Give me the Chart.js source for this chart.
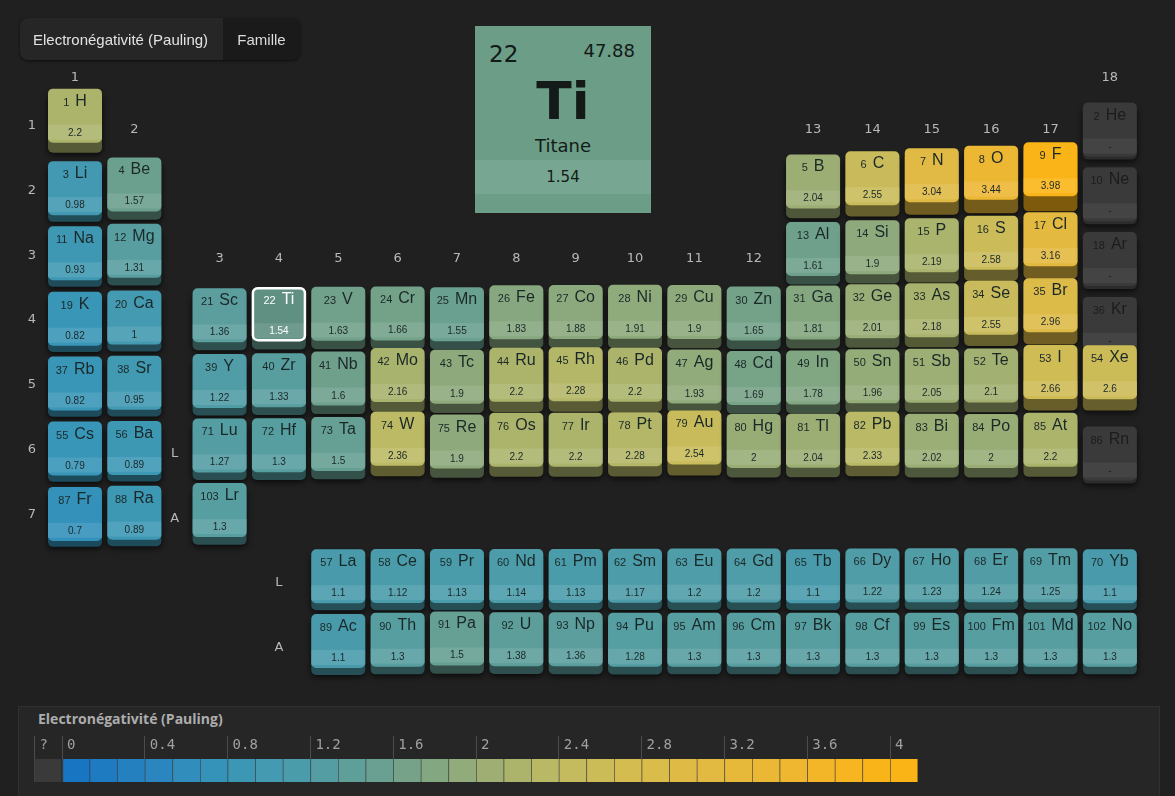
<!DOCTYPE html>
<html><head><meta charset="utf-8">
<script src="https://cdn.jsdelivr.net/npm/chart.js@4.4.1/dist/chart.umd.min.js"></script>
<style>
html,body{margin:0;padding:0;background:#202020;width:1175px;height:796px;overflow:hidden;font-family:'Liberation Sans',Arial,sans-serif}
#main{position:absolute;left:0;top:0}
#tabs{position:absolute;left:20px;top:18px;width:280px;height:42px;border-radius:8px;background:#1a1a1a;box-shadow:0 1px 3px rgba(0,0,0,.6)}
#tab1{position:absolute;left:0;top:0;width:190px;padding-left:13px;height:42px;border-radius:8px 0 0 8px;background:#262626;color:#e2e2e2;font-size:15px;line-height:44px;text-align:left;white-space:nowrap}
#tab2{position:absolute;left:203px;top:0;width:77px;height:42px;color:#dcdcdc;font-size:15px;line-height:44px;text-align:center}
#info{position:absolute;left:475px;top:26px;width:176px;height:187px;background:#6b9d87;font-family:'DejaVu Sans',sans-serif;color:#141a17}
#info .num{position:absolute;left:14px;top:14px;font-size:23px;line-height:28px}
#info .mass{position:absolute;right:16px;top:12px;font-size:18px;line-height:26px}
#info .sym{position:absolute;left:0;width:100%;top:44px;text-align:center;font-size:52px;font-weight:bold;line-height:62px}
#info .name{position:absolute;left:0;width:100%;top:108px;text-align:center;font-size:18px;line-height:24px}
#info .band{position:absolute;left:0;width:100%;top:134px;height:34px;background:#77a792;text-align:center;font-size:15px;line-height:34px}
#panel{position:absolute;left:18px;top:706px;width:1140px;height:92px;background:#262626;border:1px solid #303030}
#ptitle{position:absolute;left:38px;top:709px;font-family:'Open Sans',sans-serif;font-weight:700;font-size:14px;color:#adadad}
#legend{position:absolute;left:0;top:700px}
</style></head><body>
<canvas id="main" width="1175" height="700"></canvas>
<div id="tabs"><div id="tab1">Electronégativité (Pauling)</div><div id="tab2">Famille</div></div>
<div id="info"><div class="num">22</div><div class="mass">47.88</div><div class="sym">Ti</div><div class="name">Titane</div><div class="band">1.54</div></div>
<div id="panel"></div>
<div id="ptitle">Electronégativité (Pauling)</div>
<canvas id="legend" width="1175" height="96"></canvas>
<script>
// ---------- DATA ----------
const symbols = ['H','He','Li','Be','B','C','N','O','F','Ne','Na','Mg','Al','Si','P','S','Cl','Ar',
'K','Ca','Sc','Ti','V','Cr','Mn','Fe','Co','Ni','Cu','Zn','Ga','Ge','As','Se','Br','Kr',
'Rb','Sr','Y','Zr','Nb','Mo','Tc','Ru','Rh','Pd','Ag','Cd','In','Sn','Sb','Te','I','Xe',
'Cs','Ba','La','Ce','Pr','Nd','Pm','Sm','Eu','Gd','Tb','Dy','Ho','Er','Tm','Yb','Lu','Hf','Ta','W','Re','Os','Ir','Pt','Au','Hg','Tl','Pb','Bi','Po','At','Rn',
'Fr','Ra','Ac','Th','Pa','U','Np','Pu','Am','Cm','Bk','Cf','Es','Fm','Md','No','Lr'];
const electronegativity = [2.2,null,0.98,1.57,2.04,2.55,3.04,3.44,3.98,null,0.93,1.31,1.61,1.9,2.19,2.58,3.16,null,
0.82,1,1.36,1.54,1.63,1.66,1.55,1.83,1.88,1.91,1.9,1.65,1.81,2.01,2.18,2.55,2.96,null,
0.82,0.95,1.22,1.33,1.6,2.16,1.9,2.2,2.28,2.2,1.93,1.69,1.78,1.96,2.05,2.1,2.66,2.6,
0.79,0.89,1.1,1.12,1.13,1.14,1.13,1.17,1.2,1.2,1.1,1.22,1.23,1.24,1.25,1.1,1.27,1.3,1.5,2.36,1.9,2.2,2.2,2.28,2.54,2,2.04,2.33,2.02,2,2.2,null,
0.7,0.89,1.1,1.3,1.5,1.38,1.36,1.28,1.3,1.3,1.3,1.3,1.3,1.3,1.3,1.3,1.3];
const tableCol = [1,18,
1,2,13,14,15,16,17,18,
1,2,13,14,15,16,17,18,
1,2,3,4,5,6,7,8,9,10,11,12,13,14,15,16,17,18,
1,2,3,4,5,6,7,8,9,10,11,12,13,14,15,16,17,18,
1,2,5,6,7,8,9,10,11,12,13,14,15,16,17,18,3,4,5,6,7,8,9,10,11,12,13,14,15,16,17,18,
1,2,5,6,7,8,9,10,11,12,13,14,15,16,17,18,3];
const tableRow = [1,1,
2,2,2,2,2,2,2,2,
3,3,3,3,3,3,3,3,
4,4,4,4,4,4,4,4,4,4,4,4,4,4,4,4,4,4,
5,5,5,5,5,5,5,5,5,5,5,5,5,5,5,5,5,5,
6,6,8,8,8,8,8,8,8,8,8,8,8,8,8,8,6,6,6,6,6,6,6,6,6,6,6,6,6,6,6,6,
7,7,9,9,9,9,9,9,9,9,9,9,9,9,9,9,7];
const periodLabels = ['1','2','3','4','5','6','7'];
const seriesLabels = ['L','A'];
const selectedElement = 22;
const legendTickValues = [-0.4/3,0,0.4,0.8,1.2,1.6,2,2.4,2.8,3.2,3.6,4];
const legendTickLabels = ['?','0','0.4','0.8','1.2','1.6','2','2.4','2.8','3.2','3.6','4'];

// ---------- STYLE ----------
const enStops  = [0,0.4,0.8,1.2,1.6,2.0,2.4,2.8,3.2,3.6,4.0];
const enColors = ['#1572c2','#2883c0','#3896b8','#4f9da8','#6ea08c','#98ad76','#c0bb62','#d8bc4e','#e5b93e','#f0b62c','#fbb416'];
function hex(h){return [parseInt(h.slice(1,3),16),parseInt(h.slice(3,5),16),parseInt(h.slice(5,7),16)];}
function colorFor(v){
  if(v<=enStops[0]) return hex(enColors[0]);
  for(let k=1;k<enStops.length;k++){
    if(v<=enStops[k]){const t=(v-enStops[k-1])/(enStops[k]-enStops[k-1]);const a=hex(enColors[k-1]),b=hex(enColors[k]);return a.map((c,j)=>c+(b[j]-c)*t);}
  }
  return hex(enColors[enColors.length-1]);
}
const rgb=c=>`rgb(${c.map(Math.round).join(',')})`;
const mul=(c,f)=>c.map(x=>x*f);
const lighten=(c,f)=>c.map(x=>x+(255-x)*f);
const colPos = g => g + (g>=3 ? 0.436 : 0);

function drawCell(ctx,cx,cy,i){
  const v=electronegativity[i], has=v!=null;
  const W=54,H=54,R=5;
  const raise=has?6.3*v:0, side=has?4+2.8*v:3;
  const x0=cx-W/2, y0=cy-H/2-raise;
  const sel=(i+1)===selectedElement;
  let col=has?colorFor(v):[58,58,58];
  let face=sel?mul(col,0.9):col;
  ctx.save();
  ctx.shadowColor='rgba(0,0,0,0.75)';ctx.shadowBlur=6;ctx.shadowOffsetY=2;
  ctx.fillStyle=rgb(mul(col,has?0.5:0.75));
  ctx.beginPath();ctx.roundRect(x0,y0+4,W,H-4+side,R);ctx.fill();
  ctx.restore();
  ctx.save();
  ctx.beginPath();ctx.roundRect(x0,y0,W,H,R);ctx.fillStyle=rgb(face);ctx.fill();ctx.clip();
  ctx.fillStyle=rgb(lighten(face,has?0.1:0.05));
  ctx.fillRect(x0,y0+36,W,15);
  ctx.restore();
  if(sel){ctx.save();ctx.strokeStyle='#ffffff';ctx.lineWidth=2.5;ctx.beginPath();ctx.roundRect(x0+1,y0+1,W-2,H-2,R);ctx.stroke();ctx.restore();}
  const tc=sel?'#ffffff':(has?'#1b2828':'#1c1c1c');
  ctx.fillStyle=tc;ctx.textBaseline='alphabetic';
  const ns=String(i+1), sy=symbols[i];
  ctx.font='11px "Liberation Sans"';const wn=ctx.measureText(ns).width;
  ctx.font='16px "Liberation Sans"';const ws=ctx.measureText(sy).width;
  const gap=6, tx=cx-(wn+gap+ws)/2;
  ctx.textAlign='left';
  ctx.font='11px "Liberation Sans"';ctx.fillText(ns,tx,y0+17);
  ctx.font='16px "Liberation Sans"';ctx.fillText(sy,tx+wn+gap,y0+17);
  ctx.textAlign='center';ctx.font='10px "Liberation Sans"';
  ctx.fillText(has?String(v):'-',cx,y0+47);
}

const tablePlugin={
  id:'ptable',
  afterDatasetsDraw(chart){
    const ctx=chart.ctx, xs=chart.scales.x, ys=chart.scales.y;
    const meta=chart.getDatasetMeta(0);
    ctx.save();
    ctx.fillStyle='#b8b8b8';ctx.font='13px "DejaVu Sans"';ctx.textAlign='center';ctx.textBaseline='middle';
    for(let g=1;g<=18;g++){
      let first=99;
      tableCol.forEach((c,i)=>{if(c===g&&tableRow[i]<=7)first=Math.min(first,tableRow[i]);});
      const hr=first-1===0?0.2:first-1;
      ctx.fillText(String(g),xs.getPixelForValue(colPos(g)),ys.getPixelForValue(hr));
    }
    periodLabels.forEach((p,k)=>ctx.fillText(p,xs.getPixelForValue(0.2755),ys.getPixelForValue(k+1-0.06)));
    seriesLabels.forEach((s,k)=>{
      ctx.fillText(s,xs.getPixelForValue(2.68),ys.getPixelForValue(6+k));
      ctx.fillText(s,xs.getPixelForValue(colPos(4)),ys.getPixelForValue(8+k));
    });
    ctx.restore();
    const order=symbols.map((s,i)=>i).sort((a,b)=>tableRow[a]-tableRow[b]||a-b);
    order.forEach(i=>{const pt=meta.data[i];drawCell(ctx,pt.x,pt.y,i);});
  }
};

const pxX=59.35, x1=75, pxY=64.8, y1=129.5;
const XMIN=1-x1/pxX, XMAX=XMIN+1175/pxX, YMIN=1-y1/pxY, YMAX=YMIN+700/pxY;

new Chart(document.getElementById('main'),{
  type:'scatter',
  data:{datasets:[{data:symbols.map((s,i)=>({x:colPos(tableCol[i]),y:tableRow[i]})),pointRadius:0,pointHoverRadius:0}]},
  options:{responsive:false,animation:false,events:[],layout:{padding:0},
    plugins:{legend:{display:false},tooltip:{enabled:false}},
    scales:{x:{type:'linear',display:false,min:XMIN,max:XMAX},y:{type:'linear',display:false,reverse:true,min:YMIN,max:YMAX}}},
  plugins:[tablePlugin]
});

// legend colour bar
const segStep=0.4/3;
const segDatasets=[{data:[[-segStep,0]],backgroundColor:'#3a3a3a'}];
for(let k=0;k<31;k++){const a=k*segStep,b=a+segStep;segDatasets.push({data:[[a,b]],backgroundColor:rgb(colorFor((a+b)/2))});}
const lpx=207, l0=62;
new Chart(document.getElementById('legend'),{
  type:'bar',
  data:{labels:[''],datasets:segDatasets},
  options:{indexAxis:'y',responsive:false,animation:false,events:[],
    layout:{padding:{left:0,right:0,top:0,bottom:14}},
    datasets:{bar:{grouped:false,barPercentage:1,categoryPercentage:1,borderWidth:{left:1,right:0,top:0,bottom:0},borderColor:'rgba(255,255,255,0.14)',borderSkipped:false}},
    plugins:{legend:{display:false},tooltip:{enabled:false}},
    scales:{
      x:{type:'linear',position:'top',min:-l0/lpx,max:-l0/lpx+1175/lpx,
        afterBuildTicks:s=>{s.ticks=legendTickValues.map(v=>({value:v}));},
        afterFit:s=>{s.height=59;},
        ticks:{callback:(v,i)=>legendTickLabels[i],align:'start',padding:-18,labelOffset:5,color:'#a0a0a0',font:{family:'DejaVu Sans Mono',size:14},autoSkip:false,maxRotation:0},
        grid:{display:true,drawOnChartArea:false,drawTicks:true,tickLength:23,color:'#4c4c4c'},
        border:{display:false}},
      y:{display:false}
    }}
});
</script>
</body></html>
